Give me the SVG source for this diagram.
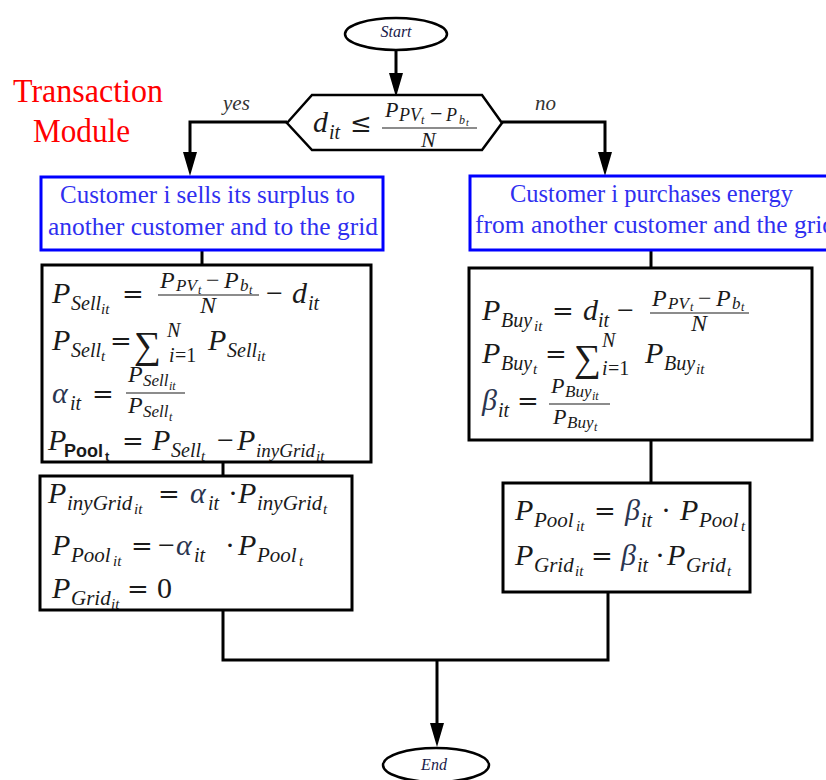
<svg xmlns="http://www.w3.org/2000/svg" width="826" height="780" viewBox="0 0 826 780" font-family="Liberation Serif, serif">
<defs>
<style>
text,tspan{font-family:'Liberation Serif',serif !important}
tspan.op{font-family:'DejaVu Serif',serif !important}
tspan.sb,tspan.sbt{font-family:'Liberation Sans',sans-serif !important}
.ln{fill:none;stroke:#000;stroke-width:3}
.box{fill:#fff;stroke:#000;stroke-width:3}
.bbox{fill:#fff;stroke:#0000ff;stroke-width:3}
.term{fill:#fff;stroke:#000;stroke-width:2.5}
.bar{stroke:#1a1a1a;stroke-width:1.2}
.bt{font-size:25px;fill:#2f2ff0}
.ttl{font-size:34px;fill:#f00}
.lab{font-style:italic;font-size:21px;fill:#333}
.tt{font-style:italic;font-size:16px;fill:#1a1a4a}
.mi{font-style:italic;fill:#1a1a1a}
.mu{font-style:normal}
.op{font-style:normal}
.sum{font-style:normal;font-size:38px}
.sb{font-weight:bold;font-style:normal;font-size:18px}
.sbt{font-weight:bold;font-style:normal;font-size:13px}
.gr{fill:#2a3550}
.L{font-size:30px}.S{font-size:20px}.S21{font-size:21px}.Sn{font-size:19px}.T{font-size:15px}
.E{font-size:26px}.F{font-size:24px}.F2{font-size:22px}.FS{font-size:17px}.FT{font-size:12px}
.D18{font-size:18px}.D12{font-size:12px}.D10{font-size:10px}
</style>
<marker id="ah" viewBox="0 0 24 14" markerWidth="24" markerHeight="14" refX="0" refY="7" orient="auto" markerUnits="userSpaceOnUse">
<path d="M0,0 L24,7 L0,14 z" fill="#000"/>
</marker>
</defs>
<rect width="826" height="780" fill="#fff"/>

<g id="title">
<text class="ttl" x="13" y="102" textLength="150" lengthAdjust="spacingAndGlyphs">Transaction</text>
<text class="ttl" x="33" y="142" textLength="97" lengthAdjust="spacingAndGlyphs">Module</text>
</g>

<g id="connectors">
<path class="ln" d="M396,50 V73" marker-end="url(#ah)"/>
<path class="ln" d="M287,122 H190 V152" marker-end="url(#ah)"/>
<path class="ln" d="M502,122 H605 V152" marker-end="url(#ah)"/>
<path class="ln" d="M202,250 V265"/>
<path class="ln" d="M223,462 V476"/>
<path class="ln" d="M651,250 V268"/>
<path class="ln" d="M651,440 V483"/>
<path class="ln" d="M223,610 V660 H608 V592"/>
<path class="ln" d="M437,660 V723" marker-end="url(#ah)"/>
<text class="lab" x="223" y="110">yes</text>
<text class="lab" x="535" y="110">no</text>
</g>

<g id="start">
<ellipse class="term" cx="396" cy="34" rx="51" ry="16"/>
<text class="tt" x="396" y="37" text-anchor="middle">Start</text>
</g>

<g id="decision">
<polygon class="term" points="287,123 312,95 482,95 502,123 482,150 312,150"/>
<text class="mi L"><tspan x="313" y="132">d</tspan><tspan class="S" x="329" y="139">it</tspan><tspan class="op E" x="350" y="132">≤</tspan><tspan class="F2" x="385" y="117">P</tspan><tspan class="D18" x="399" y="121">PV</tspan><tspan class="D12" x="421" y="124">t</tspan><tspan class="mu F2" x="430" y="121">−</tspan><tspan class="D18" x="446" y="121">P</tspan><tspan class="D12" x="459" y="124">b</tspan><tspan class="D10" x="466" y="126">t</tspan><tspan class="F2" x="421" y="147">N</tspan></text>
<line class="bar" x1="382" y1="128" x2="477" y2="128"/>
</g>

<g id="sell">
<rect class="bbox" x="41" y="177" width="342" height="73"/>
<text class="bt" x="60" y="203" textLength="295" lengthAdjust="spacingAndGlyphs">Customer i sells its surplus to</text>
<text class="bt" x="48" y="235" textLength="330" lengthAdjust="spacingAndGlyphs">another customer and to the grid</text>
</g>

<g id="buy">
<rect class="bbox" x="470" y="176" width="370" height="74"/>
<text class="bt" x="510" y="202" textLength="283" lengthAdjust="spacingAndGlyphs">Customer i purchases energy</text>
<text class="bt" x="475" y="233" textLength="360" lengthAdjust="spacingAndGlyphs">from another customer and the grid</text>
</g>

<g id="sell-calc">
<rect class="box" x="42" y="265" width="329" height="197"/>
<text class="mi L"><tspan x="52" y="303">P</tspan><tspan class="S" x="71" y="310">Sell</tspan><tspan class="T" x="101" y="314">it</tspan><tspan class="op E" x="122" y="303">=</tspan><tspan class="F" x="160" y="288">P</tspan><tspan class="FS" x="176" y="291">PV</tspan><tspan class="FT" x="198" y="294">t</tspan><tspan class="mu F" x="206" y="288">−</tspan><tspan class="F" x="224" y="288">P</tspan><tspan class="FS" x="240" y="291">b</tspan><tspan class="FT" x="249" y="294">t</tspan><tspan class="F" x="200" y="313">N</tspan><tspan class="mu L" x="266" y="303">−</tspan><tspan x="292" y="303">d</tspan><tspan class="S" x="308" y="310">it</tspan></text>
<line class="bar" x1="158" y1="295" x2="259" y2="295"/>
<text class="mi L"><tspan x="52" y="350">P</tspan><tspan class="S" x="71" y="357">Sell</tspan><tspan class="T" x="101" y="361">t</tspan><tspan class="op E" x="110" y="350">=</tspan><tspan class="sum" x="134" y="358">∑</tspan><tspan class="S" x="167" y="337">N</tspan><tspan class="S" x="169" y="362">i</tspan><tspan class="mu S" x="175" y="362">=1</tspan><tspan x="208" y="350">P</tspan><tspan class="S" x="227" y="357">Sell</tspan><tspan class="T" x="257" y="361">it</tspan></text>
<text class="mi L"><tspan class="gr" x="52" y="403">α</tspan><tspan class="S" x="70" y="410">it</tspan><tspan class="op E" x="92" y="403">=</tspan><tspan class="F" x="128" y="382">P</tspan><tspan class="FS" x="143" y="386">Sell</tspan><tspan class="FT" x="169" y="390">it</tspan><tspan class="F" x="128" y="413">P</tspan><tspan class="FS" x="143" y="417">Sell</tspan><tspan class="FT" x="169" y="421">t</tspan></text>
<line class="bar" x1="126" y1="393" x2="185" y2="393"/>
<text class="mi L"><tspan x="48" y="450">P</tspan><tspan class="sb" x="64" y="457">Pool</tspan><tspan class="sbt" x="105" y="461">t</tspan><tspan class="op E" x="122" y="450">=</tspan><tspan x="152" y="450">P</tspan><tspan class="S" x="171" y="457">Sell</tspan><tspan class="T" x="201" y="461">t</tspan><tspan class="mu L" x="217" y="450">−</tspan><tspan x="237" y="450">P</tspan><tspan class="Sn" x="256" y="457">inyGrid</tspan><tspan class="T" x="316" y="461">it</tspan></text>
</g>

<g id="sell-alloc">
<rect class="box" x="40" y="476" width="312" height="134"/>
<text class="mi L"><tspan x="48" y="503">P</tspan><tspan class="S21" x="67" y="510">inyGrid</tspan><tspan class="T" x="134" y="514">it</tspan><tspan class="op E" x="158" y="503">=</tspan><tspan class="gr" x="190" y="503">α</tspan><tspan class="S" x="208" y="510">it</tspan><tspan class="mu L" x="228" y="503">·</tspan><tspan x="238" y="503">P</tspan><tspan class="S21" x="257" y="510">inyGrid</tspan><tspan class="T" x="323" y="514">t</tspan></text>
<text class="mi L"><tspan x="52" y="555">P</tspan><tspan class="S21" x="71" y="562">Pool</tspan><tspan class="T" x="113" y="566">it</tspan><tspan class="op E" x="131" y="555">=</tspan><tspan class="mu L" x="158" y="555">−</tspan><tspan class="gr" x="176" y="555">α</tspan><tspan class="S" x="194" y="562">it</tspan><tspan class="mu L" x="225" y="555">·</tspan><tspan x="238" y="555">P</tspan><tspan class="S21" x="257" y="562">Pool</tspan><tspan class="T" x="299" y="566">t</tspan></text>
<text class="mi L"><tspan x="52" y="598">P</tspan><tspan class="S21" x="71" y="605">Grid</tspan><tspan class="T" x="111" y="609">it</tspan><tspan class="op E" x="127" y="598">=</tspan><tspan class="mu L" x="157" y="598">0</tspan></text>
</g>

<g id="buy-calc">
<rect class="box" x="469" y="268" width="343" height="172"/>
<text class="mi L"><tspan x="482" y="320">P</tspan><tspan class="S" x="501" y="327">Buy</tspan><tspan class="T" x="534" y="331">it</tspan><tspan class="op E" x="552" y="320">=</tspan><tspan x="583" y="320">d</tspan><tspan class="S" x="598" y="327">it</tspan><tspan class="mu L" x="617" y="320">−</tspan><tspan class="F" x="652" y="306">P</tspan><tspan class="FS" x="668" y="309">PV</tspan><tspan class="FT" x="690" y="311">t</tspan><tspan class="mu F" x="698" y="306">−</tspan><tspan class="F" x="716" y="306">P</tspan><tspan class="FS" x="732" y="309">b</tspan><tspan class="FT" x="741" y="311">t</tspan><tspan class="F" x="691" y="331">N</tspan></text>
<line class="bar" x1="650" y1="313" x2="749" y2="313"/>
<text class="mi L"><tspan x="482" y="363">P</tspan><tspan class="S" x="501" y="370">Buy</tspan><tspan class="T" x="533" y="374">t</tspan><tspan class="op E" x="545" y="363">=</tspan><tspan class="sum" x="574" y="371">∑</tspan><tspan class="S" x="602" y="347">N</tspan><tspan class="S" x="602" y="375">i</tspan><tspan class="mu S" x="608" y="375">=1</tspan><tspan x="645" y="363">P</tspan><tspan class="S" x="664" y="370">Buy</tspan><tspan class="T" x="696" y="374">it</tspan></text>
<text class="mi L"><tspan class="gr" x="482" y="410">β</tspan><tspan class="S" x="498" y="417">it</tspan><tspan class="op E" x="517" y="410">=</tspan><tspan class="F2" x="551" y="393">P</tspan><tspan class="FS" x="565" y="397">Buy</tspan><tspan class="FT" x="592" y="400">it</tspan><tspan class="F2" x="553" y="424">P</tspan><tspan class="FS" x="567" y="428">Buy</tspan><tspan class="FT" x="594" y="431">t</tspan></text>
<line class="bar" x1="549" y1="404" x2="610" y2="404"/>
</g>

<g id="buy-alloc">
<rect class="box" x="503" y="483" width="247" height="109"/>
<text class="mi L"><tspan x="515" y="520">P</tspan><tspan class="S21" x="534" y="527">Pool</tspan><tspan class="T" x="576" y="531">it</tspan><tspan class="op E" x="594" y="520">=</tspan><tspan class="gr" x="625" y="520">β</tspan><tspan class="S" x="641" y="527">it</tspan><tspan class="mu L" x="661" y="520">·</tspan><tspan x="680" y="520">P</tspan><tspan class="S21" x="699" y="527">Pool</tspan><tspan class="T" x="741" y="531">t</tspan></text>
<text class="mi L"><tspan x="515" y="565">P</tspan><tspan class="S21" x="534" y="572">Grid</tspan><tspan class="T" x="575" y="576">it</tspan><tspan class="op E" x="591" y="565">=</tspan><tspan class="gr" x="621" y="565">β</tspan><tspan class="S" x="637" y="572">it</tspan><tspan class="mu L" x="655" y="565">·</tspan><tspan x="667" y="565">P</tspan><tspan class="S21" x="686" y="572">Grid</tspan><tspan class="T" x="727" y="576">t</tspan></text>
</g>

<g id="end">
<ellipse class="term" cx="436" cy="765" rx="53" ry="17"/>
<text class="tt" x="434" y="770" text-anchor="middle">End</text>
</g>
</svg>
